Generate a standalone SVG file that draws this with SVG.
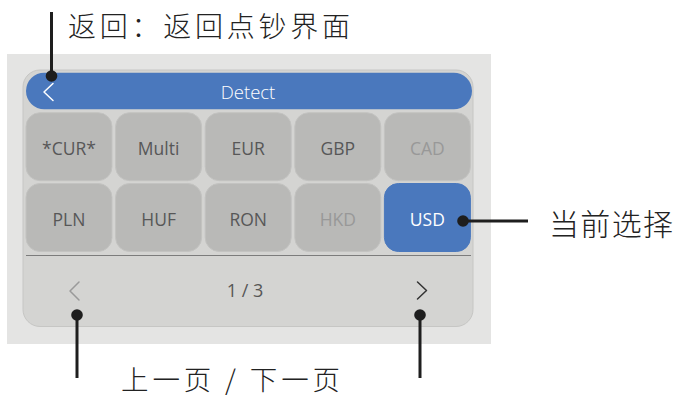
<svg xmlns="http://www.w3.org/2000/svg" width="675" height="398" viewBox="0 0 675 398">
<defs>
<style>
.btn{fill:#b9b9b7;stroke:#c3c3c1;stroke-width:1}
.sel{fill:#4a78bd;stroke:#4a78bd;stroke-width:1}
.lbl{font-family:"Open Sans","Noto Sans",sans-serif;font-size:17.5px;text-anchor:middle;fill:#575757}
.dis{fill:#989898}
.wht{fill:#ffffff}
.cjk{font-family:"Noto Sans CJK SC","Noto Sans",sans-serif;font-weight:300;fill:#222222}
.ln{stroke:#1e1e1e;stroke-width:3;fill:none}
.dot{fill:#1e1e1e}
.chev{fill:none;stroke-width:1.5;stroke-linecap:round;stroke-linejoin:round}
</style>
</defs>
<rect width="675" height="398" fill="#ffffff"/>
<g id="screen">
<rect x="7" y="54" width="484" height="290" fill="#e4e4e3"/>
<rect x="23" y="70" width="450" height="256.5" rx="17" fill="#d4d4d2" stroke="#c6c6c4" stroke-width="1"/>
</g>
<g id="header">
<rect x="26" y="72.7" width="446" height="36.6" rx="18.3" fill="#4a78bd"/>
<polyline class="chev" stroke="#ffffff" points="53,83.5 44,92 53,100.5"/>
<text x="248" y="98.5" class="lbl wht" style="font-size:18.5px;font-weight:300">Detect</text>
</g>
<g id="btn-cur"><rect class="btn" x="26" y="112.7" width="86" height="68" rx="14"/><text class="lbl" x="69" y="155">*CUR*</text></g>
<g id="btn-multi"><rect class="btn" x="115.6" y="112.7" width="86" height="68" rx="14"/><text class="lbl" x="158.6" y="155">Multi</text></g>
<g id="btn-eur"><rect class="btn" x="205.2" y="112.7" width="86" height="68" rx="14"/><text class="lbl" x="248.2" y="155">EUR</text></g>
<g id="btn-gbp"><rect class="btn" x="294.8" y="112.7" width="86" height="68" rx="14"/><text class="lbl" x="337.8" y="155">GBP</text></g>
<g id="btn-cad"><rect class="btn" x="384.4" y="112.7" width="86" height="68" rx="14"/><text class="lbl dis" x="427.4" y="155">CAD</text></g>
<g id="btn-pln"><rect class="btn" x="26" y="183.5" width="86" height="68" rx="14"/><text class="lbl" x="69" y="226">PLN</text></g>
<g id="btn-huf"><rect class="btn" x="115.6" y="183.5" width="86" height="68" rx="14"/><text class="lbl" x="158.6" y="226">HUF</text></g>
<g id="btn-ron"><rect class="btn" x="205.2" y="183.5" width="86" height="68" rx="14"/><text class="lbl" x="248.2" y="226">RON</text></g>
<g id="btn-hkd"><rect class="btn" x="294.8" y="183.5" width="86" height="68" rx="14"/><text class="lbl dis" x="337.8" y="226">HKD</text></g>
<g id="btn-usd"><rect class="sel" x="384.4" y="183.5" width="86" height="68" rx="14"/><text class="lbl wht" x="427.4" y="226">USD</text></g>
<g id="pager">
<line x1="26" y1="255.5" x2="471" y2="255.5" stroke="#7c7c7c" stroke-width="1"/>
<polyline class="chev" stroke="#9a9a9a" points="79,282 70,291 79,300"/>
<text class="lbl" x="245" y="297" style="font-size:18px">1 / 3</text>
<polyline class="chev" stroke="#333333" points="417.5,282 426.5,290.5 417.5,299"/>
</g>
<g id="connectors">
<line class="ln" x1="51.5" y1="12" x2="51.5" y2="76"/>
<circle class="dot" cx="51.5" cy="76" r="5.8"/>
<line class="ln" x1="463" y1="221" x2="528" y2="221"/>
<circle class="dot" cx="463" cy="221" r="5.8"/>
<line class="ln" x1="77" y1="315" x2="77" y2="378"/>
<circle class="dot" cx="77" cy="315" r="5.8"/>
<line class="ln" x1="420" y1="315" x2="420" y2="378"/>
<circle class="dot" cx="420" cy="315" r="5.8"/>
</g>
<g id="label-back"><text class="cjk" x="68" y="36.5" font-size="28" textLength="282" lengthAdjust="spacing">返回：返回点钞界面</text></g>
<g id="label-current"><text class="cjk" x="549" y="235" font-size="30" textLength="124" lengthAdjust="spacing">当前选择</text></g>
<g id="label-page"><text class="cjk" x="121" y="390" font-size="27.5" textLength="219" lengthAdjust="spacing">上一页 / 下一页</text></g>
</svg>
